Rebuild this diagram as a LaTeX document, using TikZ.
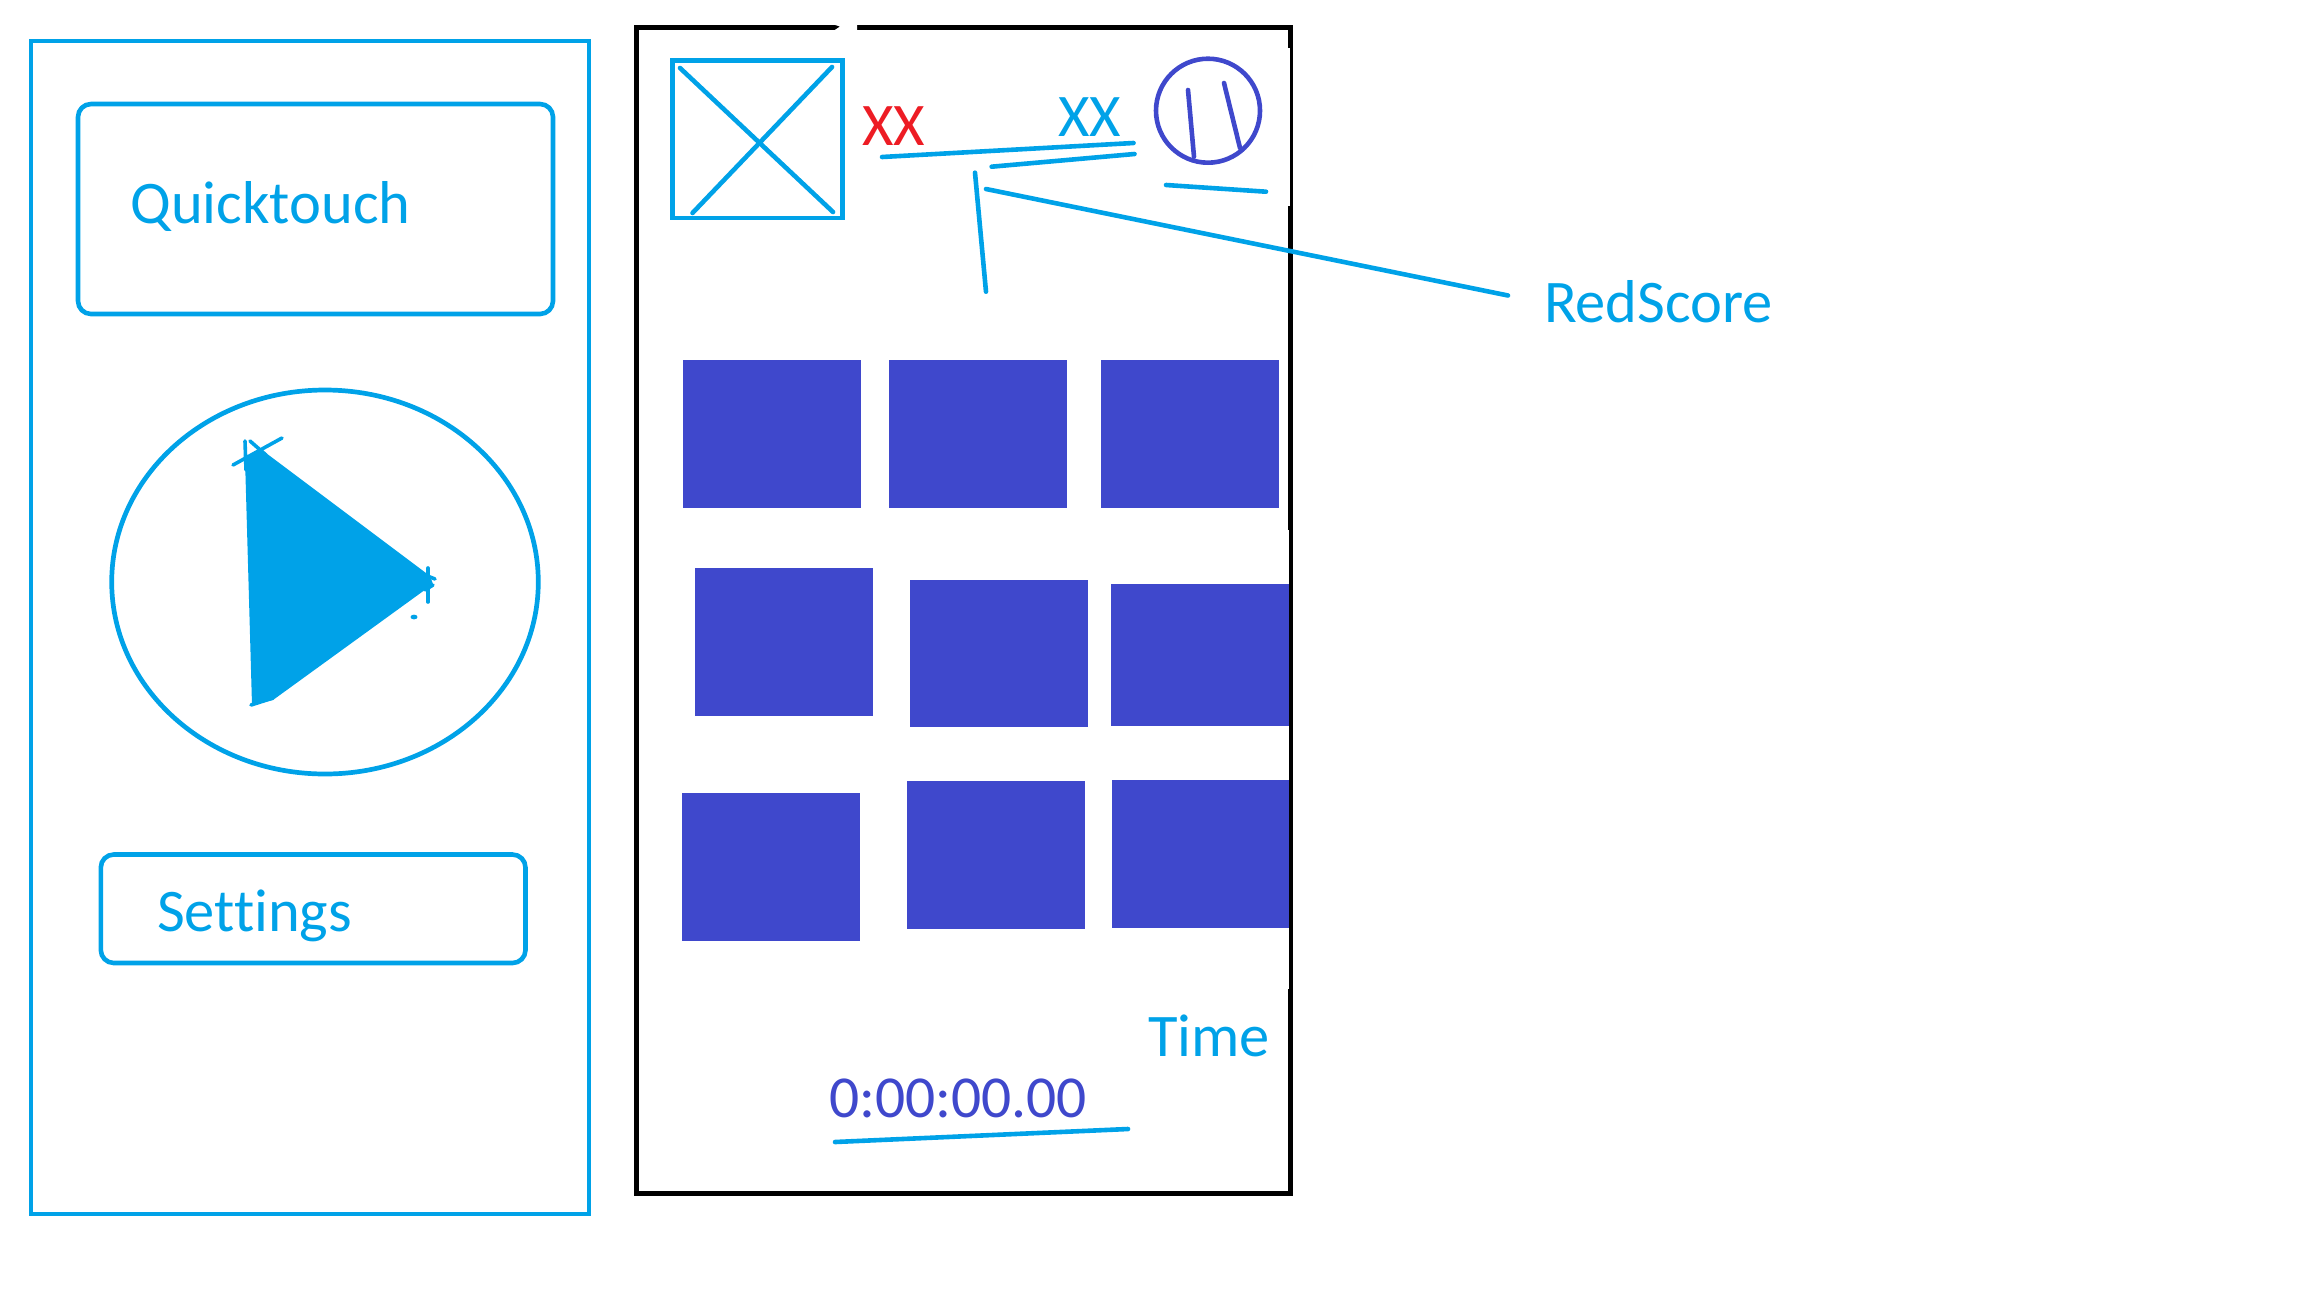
\documentclass[tikz,border=0pt]{standalone}
\usepackage{fontspec}
\setmainfont[Ligatures=NoCommon]{Carlito}
\definecolor{skyb}{HTML}{00A2E8}
\definecolor{indi}{HTML}{3F48CC}
\definecolor{redx}{HTML}{ED1C24}
\tikzset{
  panel/.style={draw=skyb,line width=4.7pt},
  framebox/.style={draw=black,line width=5pt,line join=miter},
  btn/.style={draw=skyb,line width=4.6pt,rounded corners=13pt},
  sketch/.style={draw=skyb,line width=4.6pt,line cap=round},
  inksketch/.style={draw=indi,line width=4.6pt,line cap=round},
  tile/.style={fill=indi,draw=none},
  lbl/.style={inner sep=0pt,outer sep=0pt,anchor=base west,text=skyb,font=\fontsize{60.5}{62}\selectfont},
}
\begin{document}
\begin{tikzpicture}[x=1pt,y=-1pt]
\useasboundingbox (0,0) rectangle (2304,1296);
% left panel
\draw[panel] (31,41) rectangle (589,1214);
\draw[btn] (78,104) rectangle (553,314);
\draw[panel] (325,582) ellipse [x radius=213.3,y radius=192];
\fill[skyb] (245,458) -- (262,450) -- (430,576) -- (433,584) -- (273,700) -- (252,705) -- cycle;
\draw[sketch,line width=3.6pt] (245,441) -- (246,470);
\draw[sketch,line width=3.6pt] (250,441) -- (266,455);
\draw[sketch,line width=3.6pt] (233,465) -- (282,438);
\draw[sketch,line width=3.6pt] (251,705) -- (273,698);
\draw[sketch,line width=3.6pt] (428,568) -- (428,602);
\draw[sketch,line width=3.6pt] (425,575) -- (435,579);
\draw[sketch,line width=3.6pt] (425,590) -- (433,585);
\fill[skyb] (414,617) ellipse [x radius=3.5,y radius=2.4];
\draw[btn] (100.8,854.5) rectangle (525.5,963);
\node[lbl] (quick) at (130.5,223) {Quicktouch};
\node[lbl] (settings) at (157,931.5) {Settings};
% right frame
\draw[framebox] (636.5,27) rectangle (1290.5,1193);
\fill[white] (1287.5,48) rectangle (1289.5,206);
\fill[white] (1287.5,530) rectangle (1289.2,989);
\fill[white] (832,24) -- (840,24) -- (857,24) -- (857,30.5) -- (834,30.5) -- (840,26.5) -- cycle;
% logo
\draw[draw=skyb,line width=4.8pt] (672.5,60.5) rectangle (842.5,218);
\draw[sketch] (680,68) -- (833,212);
\draw[sketch] (832,67) -- (692.5,213);
% score
\node[lbl,text=redx] (xxred) at (862,145) {XX};
\node[lbl] (xxblue) at (1058,136) {XX};
\draw[sketch] (882,157) -- (1133.5,143);
\draw[sketch] (991.6,166.7) -- (1134.5,154);
\draw[sketch] (975,172.7) -- (986,291.7);
\coordinate (rstart) at (986,189);
\coordinate (rend) at (1508,295.5);
\draw[sketch] (rstart) -- (rend);
\draw[sketch] (1166,185) -- (1266,191.7);
\node[lbl] (redscore) at (1544,322) {RedScore};
% pause
\draw[draw=indi,line width=4.6pt] (1208,110.7) circle [radius=52];
\draw[inksketch] (1188,90) -- (1194,156.7);
\draw[inksketch] (1224,83) -- (1240,148);
% tiles
\fill[tile] (683,360) rectangle (861,508);
\fill[tile] (889,360) rectangle (1067,508);
\fill[tile] (1100.6,360) rectangle (1278.5,508);
\fill[tile] (695,568) rectangle (873,716);
\fill[tile] (910,580) rectangle (1088,727);
\fill[tile] (1111,584) rectangle (1289,726);
\fill[tile] (682,793) rectangle (860,941);
\fill[tile] (907,781) rectangle (1085,929);
\fill[tile] (1112,780) rectangle (1289,928);
% time
\node[lbl] (timelbl) at (1148,1056) {Time};
\node[lbl,text=indi,font=\fontsize{59.5}{62}\selectfont] (timer) at (829,1117) {0:00:00.00};
\draw[sketch] (835,1142) -- (1128,1129);
\end{tikzpicture}
\end{document}
